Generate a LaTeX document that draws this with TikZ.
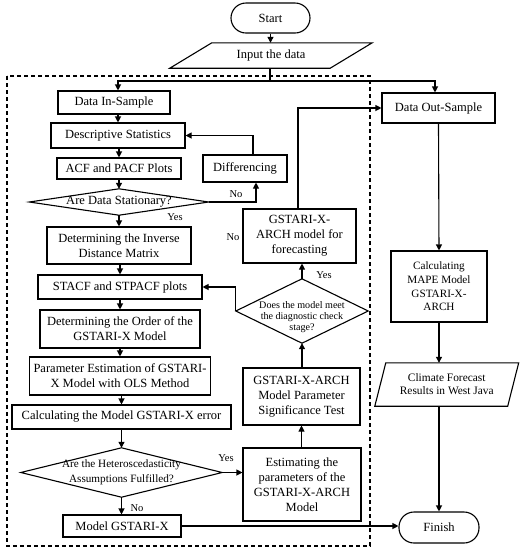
\documentclass[tikz,border=0pt]{standalone}
\usepackage{fontspec}
\setmainfont{Liberation Serif}
\usetikzlibrary{arrows.meta,calc}
\tikzset{
  base/.style={draw, line width=1.1pt, inner sep=0pt, align=center, font=\fontsize{12.5}{15}\selectfont},
  boxn/.style={base, rectangle},
  term/.style={base, rectangle, rounded corners=15pt},
  plain/.style={inner sep=0pt, align=center, font=\fontsize{12.5}{15}\selectfont},
  lbl/.style={inner sep=0pt, font=\fontsize{10.5}{12}\selectfont},
  arr/.style={line width=1.1pt, -{Triangle[length=6pt,width=6pt]}},
  ln/.style={line width=1.1pt}
}
\newcommand{\diaout}[1]{\draw[ln] (#1.north) -- (#1.east) -- (#1.south) -- (#1.west) -- cycle;}
\begin{document}
\begin{tikzpicture}[x=1pt,y=-1pt]
\useasboundingbox (0,0) rectangle (521,550);
\draw[line width=1.1pt, dash pattern=on 4pt off 3pt] (7,76) rectangle (370,546);

\node[term, minimum width=79pt, minimum height=30pt] (start) at (270.5,18) {Start};
\node[plain, minimum width=160pt, minimum height=25pt] (inp) at (271,55.5) {Input the data};
\draw[ln] ($(inp.south west)+(-21,0)$) -- ($(inp.north west)+(21,0)$) -- ($(inp.north east)+(21,0)$) -- ($(inp.south east)+(-21,0)$) -- cycle;
\coordinate (sp) at (270,81);

\node[boxn, minimum width=112pt, minimum height=23pt] (ins) at (114,102.5) {Data In-Sample};
\node[boxn, minimum width=134pt, minimum height=25pt] (desc) at (118,135.5) {Descriptive Statistics};
\node[boxn, minimum width=124pt, minimum height=21pt] (acf) at (119,168.5) {ACF and PACF Plots};
\node[plain, minimum width=179pt, minimum height=26pt] (d1) at (119,202) {Are Data Stationary?};
\diaout{d1}
\node[boxn, minimum width=84pt, minimum height=27pt] (diff) at (245,168.5) {Differencing};
\node[boxn, minimum width=144pt, minimum height=37pt] (inv) at (119,245.5) {Determining the Inverse\\Distance Matrix};
\node[boxn, minimum width=164pt, minimum height=24pt] (stacf) at (120,287) {STACF and STPACF plots};
\node[boxn, minimum width=160pt, minimum height=38pt] (ord) at (120,329) {Determining the Order of the\\GSTARI-X Model};
\node[boxn, minimum width=181pt, minimum height=38pt] (par) at (120,376) {Parameter Estimation of GSTARI-\\X Model with OLS Method};
\node[boxn, minimum width=219pt, minimum height=24pt] (err) at (121.5,417) {Calculating the Model GSTARI-X error};
\node[plain, minimum width=201pt, minimum height=49pt, font=\fontsize{11.2}{15}\selectfont] (d2) at (121.5,472.5) {Are the Heteroscedasticity\\Assumptions Fulfilled?};
\diaout{d2}
\node[boxn, minimum width=118pt, minimum height=22pt] (mod) at (122,526) {Model GSTARI-X};

\node[boxn, minimum width=118pt, minimum height=73pt] (est) at (302,484.5) {Estimating the\\parameters of the\\GSTARI-X-ARCH\\Model};
\node[boxn, minimum width=117pt, minimum height=57pt] (sig) at (301.5,396.5) {GSTARI-X-ARCH\\Model Parameter\\Significance Test};
\node[plain, minimum width=132pt, minimum height=64pt, font=\fontsize{10.1}{12.5}\selectfont] (d3) at (302,311) {\raisebox{0pt}[\dimexpr\height+13pt\relax]{\shortstack{Does the model meet\\the diagnostic check\\stage?}}};
\diaout{d3}
\node[boxn, minimum width=113pt, minimum height=54pt] (fc) at (299.5,236) {GSTARI-X-\\ARCH model for\\forecasting};

\node[boxn, minimum width=113pt, minimum height=30pt] (outs) at (438.5,108) {Data Out-Sample};
\node[boxn, minimum width=96pt, minimum height=71pt, font=\fontsize{11.2}{13.7}\selectfont] (mape) at (439,286.5) {Calculating\\MAPE Model\\GSTARI-X-\\ARCH};
\node[plain, minimum width=132.5pt, minimum height=43pt, font=\fontsize{11.4}{13}\selectfont] (clim) at (446.75,384.5) {Climate Forecast\\Results in West Java};
\draw[ln] ($(clim.south west)+(-5.5,0)$) -- ($(clim.north west)+(5.5,0)$) -- ($(clim.north east)+(5.5,0)$) -- ($(clim.south east)+(-5.5,0)$) -- cycle;
\node[term, minimum width=80pt, minimum height=31pt] (fin) at (439,527.5) {Finish};

% connectors
\draw[arr] (start.south) -- (start.south |- inp.north);
\draw[ln] (inp.south -| sp) -- (sp);
\draw[arr] (sp) -| ([xshift=4pt]ins.north);
\draw[arr] (sp) -| ([xshift=-3.5pt]outs.north);
\draw[arr] (ins.south -| desc.north) -- (desc.north);
\draw[arr] (desc.south -| acf.north) -- (acf.north);
\draw[arr] (acf.south) -- (d1.north);
\draw[arr] (d1.east) -| ([xshift=11pt]diff.south);
\node[lbl] at (236,194) {No};
\draw[arr] ([xshift=8pt]diff.north) |- (desc.east);
\draw[arr] (d1.south) -- (inv.north);
\node[lbl] at (175,217) {Yes};
\draw[arr] (inv.south -| stacf.north) -- (stacf.north);
\draw[arr] (stacf.south) -- (ord.north);
\draw[arr] (ord.south) -- (par.north);
\draw[arr] (par.south -| err.north) -- (err.north);
\draw[arr] (err.south) -- (d2.north);
\draw[arr] (d2.east) -- (est.west |- d2.east);
\node[lbl] at (226,458) {Yes};
\draw[arr] (d2.south) -- (d2.south |- mod.north);
\node[lbl] at (137,508) {No};
\draw[arr] (mod.east) -- (fin.west |- mod.east);
\draw[arr] (est.north -| sig.south) -- (sig.south);
\draw[arr] (sig.north -| d3.south) -- (d3.south);
\draw[arr] (d3.west) |- (stacf.east);
\node[lbl] at (233,237) {No};
\draw[arr] (d3.north) -- (d3.north |- fc.south);
\node[lbl] at (324,275) {Yes};
\draw[arr] ([xshift=-1.5pt]fc.north) |- (outs.west);
\draw[arr] (outs.south) -- (mape.north);
\draw[arr] (mape.south) -- (mape.south |- clim.north);
\draw[arr] (clim.south -| fin.north) -- (fin.north);
\end{tikzpicture}
\end{document}
